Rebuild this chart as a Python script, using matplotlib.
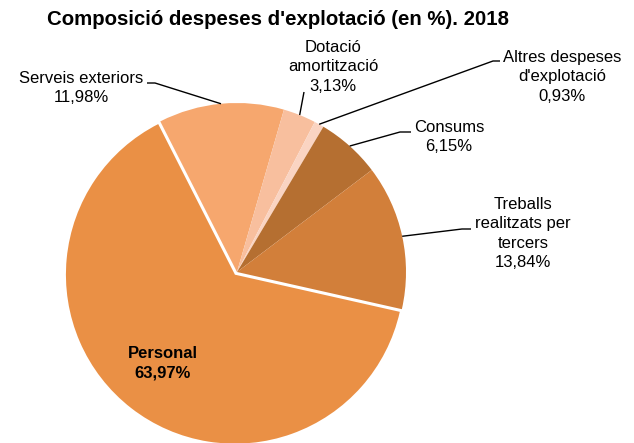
import matplotlib
matplotlib.use("Agg")
import matplotlib.pyplot as plt
import numpy as np

plt.rcParams["font.family"] = ["Liberation Sans", "DejaVu Sans"]

# ---- data (display order, clockwise from top-left) ----
categories = ["Serveis exteriors", "Dotació\namortització", "Altres despeses\nd'explotació",
              "Consums", "Treballs\nrealitzats per\ntercers", "Personal"]
values = [11.98, 3.13, 0.93, 6.15, 13.84, 63.97]
colors = ["#F6A76E", "#F8BF9E", "#FAD4C2", "#B56F31", "#D27F3A", "#EA9045"]
title = "Composició despeses d'explotació (en %). 2018"

# ---- layout (pixel space) ----
W, H = 634, 443
CX, CY, R = 237, 272, 169


def px(x, y):
    return ((x - CX) / R, (CY - y) / R)


fig = plt.figure(figsize=(W / 100, H / 100), dpi=100)
ax = fig.add_axes([0, 0, 1, 1])

explode = [0, 0, 0, 0, 0, 0.02]
wedges, _ = ax.pie(values, colors=colors, startangle=117, counterclock=False,
                   explode=explode, radius=1.0,
                   wedgeprops=dict(linewidth=0))
ax.set_xlim(-CX / R, (W - CX) / R)
ax.set_ylim(-(H - CY) / R, CY / R)
ax.axis("off")


def pct(v):
    return f"{v:.2f}".replace(".", ",") + "%"


# label layout: (text centre x, first baseline y, elbow, end) in pixels
layout = {
    0: (81.5, 83, (155, 83), (147, 83)),
    1: (333, 52, (304, 92), (304, 92)),
    2: (562, 62, (493, 61), (500, 61)),
    3: (449, 132, (400, 132), (411, 132)),
    4: (523, 209, (462, 229), (471, 229)),
}
LS = 19.3

for i, (cat, v) in enumerate(zip(categories, values)):
    lines = cat.split("\n") + [pct(v)]
    if i in layout:
        tx, by, elbow, end = layout[i]
        w = wedges[i]
        mid = np.deg2rad((w.theta1 + w.theta2) / 2)
        ax_, ay_ = np.cos(mid) * w.r + w.center[0], np.sin(mid) * w.r + w.center[1]
        ex, ey = px(*elbow)
        nx, ny = px(*end)
        ax.plot([ax_, ex, nx], [ay_, ey, ny], color="black", lw=1.0,
                solid_capstyle="butt", zorder=3)
        weight = "normal"
    else:
        tx, by = 163, 358
        weight = "bold"
    for k, line in enumerate(lines):
        x, y = px(tx, by + k * LS)
        ax.text(x, y, line, ha="center", va="baseline", fontsize=12,
                fontweight=weight, color="black")

x, y = px(278, 25)
ax.text(x, y, title, ha="center", va="baseline", fontsize=14.7,
        fontweight="bold", color="black")

fig.savefig("out.png", dpi=100)
